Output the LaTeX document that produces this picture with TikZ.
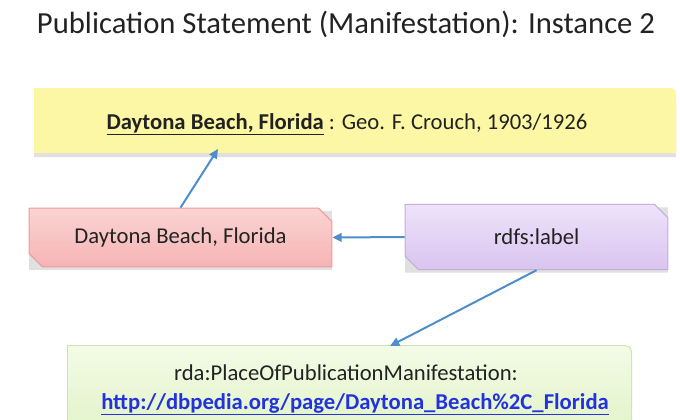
\documentclass[tikz,border=0pt]{standalone}
\usepackage{fontspec}
\setmainfont{Carlito}
\usetikzlibrary{shapes.misc,arrows.meta,calc}
\definecolor{yelfill}{HTML}{FBF7A4}
\definecolor{pinktop}{HTML}{FBD3D3}
\definecolor{pinkbot}{HTML}{F6B4B4}
\definecolor{pinkline}{HTML}{EE9A9A}
\definecolor{purtop}{HTML}{EEE3FA}
\definecolor{purbot}{HTML}{D9C4EF}
\definecolor{purline}{HTML}{C2AEDB}
\definecolor{grntop}{HTML}{F3FBE6}
\definecolor{grnbot}{HTML}{E3F4CB}
\definecolor{grnline}{HTML}{CBE4AC}
\definecolor{arrowblue}{HTML}{4F8DCB}
\definecolor{urlblue}{HTML}{2233DD}
\definecolor{txt}{HTML}{222222}
\begin{document}
\begin{tikzpicture}[x=0.75pt,y=-0.75pt,
  boxtext/.style={font=\fontsize{17}{20}\selectfont, text=txt},
  snipbox/.style={chamfered rectangle, chamfered rectangle corners={north east,south west},
    chamfered rectangle xsep=5pt, chamfered rectangle ysep=5pt, boxtext, line width=0.8pt, inner sep=0pt},
  link/.style={draw=arrowblue, line width=1.5pt, -{Triangle[length=7pt,width=6.5pt]}},
  shadow/.style={fill=black!12}]
\useasboundingbox (0,0) rectangle (680,419);

% title
\node[anchor=base, font=\fontsize{23}{27}\selectfont, text=txt] (title) at (346,33)
  {Publication Statement (Manifestation): Instance 2};

% yellow box
\fill[shadow] (34,91) -- (664,91) .. controls (676,91) .. (676,103) -- (676,157) -- (34,157) -- cycle;
\fill[yelfill] (34,88) -- (664,88) .. controls (676,88) .. (676,100) -- (676,153) -- (34,153) -- cycle;
\node[anchor=base, boxtext] (ytext) at (347,129)
  {\textbf{\underline{Daytona Beach, Florida}} : Geo. F. Crouch, 1903/1926};

% pink box
\node[snipbox, fill=black!12, minimum width=227pt, minimum height=44pt] at (180.5,240.5) {};
\node[snipbox, draw=pinkline, top color=pinktop, bottom color=pinkbot,
  minimum width=227pt, minimum height=44pt] (pink) at (180.5,237.5) {Daytona Beach, Florida};

% purple box
\node[snipbox, fill=black!12, minimum width=197pt, minimum height=49pt] at (536.5,240) {};
\node[snipbox, draw=purline, top color=purtop, bottom color=purbot,
  minimum width=197pt, minimum height=49pt] (purple) at (536.5,237) {rdfs:label};

% green box
\fill[grnline] (67,345) -- (617,345) .. controls (632,345) .. (632,360) -- (632,425) -- (67,425) -- cycle;
\shade[top color=grntop, bottom color=grnbot] (68,346) -- (617,346) .. controls (631,346) .. (631,360) -- (631,425) -- (68,425) -- cycle;
\node[boxtext, anchor=base] (gline1) at (346,380) {rda:PlaceOfPublicationManifestation:};
\node[boxtext, anchor=base] (gline2) at (355,409)
  {\textcolor{urlblue}{\textbf{\underline{http://dbpedia.org/page/Daytona\_Beach\%2C\_Florida}}}};

% connectors
\coordinate (tip) at (218,149);
\coordinate (gtop) at (390,346);
\draw[link] (pink.north) -- (tip);
\draw[link] (purple.west) -- (pink.east);
\draw[link] (purple.south) -- (gtop);
\end{tikzpicture}
\end{document}
